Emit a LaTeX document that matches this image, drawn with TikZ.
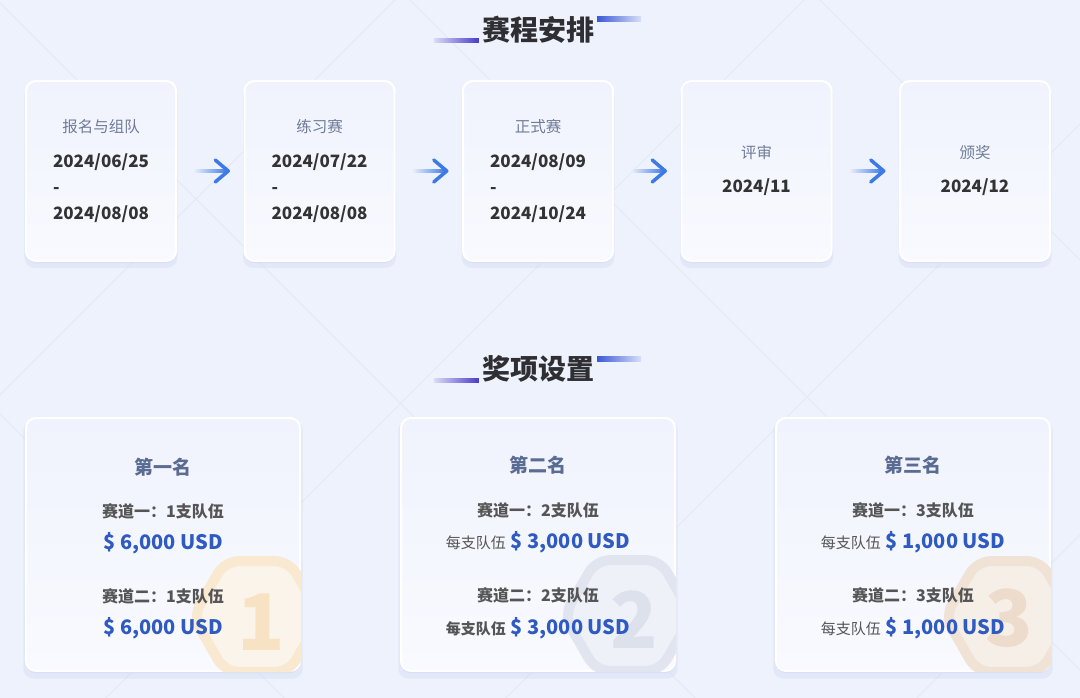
\documentclass[tikz,border=0pt]{standalone}
\usepackage{fontspec}
\setmainfont{Noto Sans CJK SC}
\usepackage{xcolor}
\usetikzlibrary{positioning, calc, shapes.geometric, shadows}

\definecolor{bgc}{HTML}{EEF2FC}
\definecolor{gridc}{HTML}{E5E9F6}
\definecolor{cardtop}{HTML}{F0F3FD}
\definecolor{cardbot}{HTML}{F9FAFF}
\definecolor{shadowc}{HTML}{CDD7F1}
\definecolor{headc}{HTML}{2E2E33}
\definecolor{stagec}{HTML}{6F7B99}
\definecolor{datec}{HTML}{333333}
\definecolor{rankc}{HTML}{5B6C94}
\definecolor{trackc}{HTML}{555555}
\definecolor{moneyc}{HTML}{2E5AC2}
\definecolor{arrowc}{HTML}{3D7AE6}
\definecolor{barl}{HTML}{4A3CC8}
\definecolor{barr}{HTML}{3B5AD6}
\definecolor{goldline}{HTML}{F8E9D0}
\definecolor{goldfill}{HTML}{FBF4EA}
\definecolor{goldnum}{HTML}{F7E2C4}
\definecolor{silvline}{HTML}{E1E5EF}
\definecolor{silvfill}{HTML}{EEF1F7}
\definecolor{silvnum}{HTML}{DDE1EB}
\definecolor{bronline}{HTML}{F0E3D5}
\definecolor{bronfill}{HTML}{F6EFE8}
\definecolor{bronnum}{HTML}{EDDCCB}

\newcommand{\fsz}[1]{\fontsize{#1}{#1}\selectfont}
\newcommand{\perteam}{{\color{trackc}\mdseries\fsz{15}每支队伍}\hspace{5pt}}
\newcommand{\perteamb}{{\color{trackc}\fsz{15}每支队伍}\hspace{5pt}}

\begin{document}
\begin{tikzpicture}[x=1pt, y=-1pt, >=stealth,
    gridline/.style={gridc, line width=1pt},
    heading/.style={font=\bfseries\fsz{28}, text=headc, inner sep=0pt},
    barleft/.style={left color=barl!12!bgc, right color=barl},
    barright/.style={left color=barr, right color=barr!12!bgc},
    cardbase/.style={rounded corners=10pt, draw=white, line width=2pt,
        top color=cardtop, bottom color=cardbot, inner sep=0pt,
        drop shadow={shadow xshift=0pt, shadow yshift=-5pt, shadow scale=1.02, fill=shadowc, opacity=0.35},
        drop shadow={shadow xshift=0pt, shadow yshift=-2pt, fill=shadowc, opacity=0.6}},
    stagecard/.style={cardbase, minimum width=150pt, minimum height=180pt},
    prizecard/.style={cardbase, minimum width=274pt, minimum height=253pt},
    stagetitle/.style={font=\fsz{15.5}, text=stagec},
    datetext/.style={font=\bfseries\fsz{17}, text=datec, align=left, inner sep=0pt,
        execute at begin node=\setlength{\baselineskip}{26pt}},
    flowshaft/.style={left color=bgc, right color=arrowc},
    flowhead/.style={arrowc, line width=3.5pt, line cap=round, line join=round},
    hexbadge/.style={regular polygon, regular polygon sides=6, minimum size=128pt,
        inner sep=0pt, line width=10pt, rounded corners=14pt},
    badgenum/.style={font=\bfseries\fsz{78}, inner sep=0pt},
    rank/.style={font=\bfseries\fsz{19}, text=rankc},
    track/.style={font=\bfseries\fsz{16}, text=trackc},
    money/.style={font=\bfseries\fsz{20}, text=moneyc}]

  \useasboundingbox[fill=bgc] (0,0) rectangle (1080,698);

  % faint lattice in the background
  \begin{scope}
    \clip (0,0) rectangle (1080,698);
    \foreach \c in {-820,-410,3,414}
      \draw[gridline] (0,\c) -- (1080,\c+1080);
    \foreach \c in {395,804,1204,1615}
      \draw[gridline] (0,\c) -- (1080,\c-1080);
  \end{scope}

  % schedule
  \node[heading] (h1) at (538,30) {赛程安排};
  \shade[barleft] ($(h1.west)+(-48,9)$) rectangle ($(h1.west)+(-3,13)$);
  \shade[barright] ($(h1.east)+(3,-13)$) rectangle ($(h1.east)+(47,-8)$);

  \node[stagecard] (s1) at (101,171) {};
  \node[stagecard, right=66.5pt of s1] (s2) {};
  \node[stagecard, right=66.5pt of s2] (s3) {};
  \node[stagecard, right=66.5pt of s3] (s4) {};
  \node[stagecard, right=66.5pt of s4] (s5) {};

  \node[stagetitle] (t1) at ($(s1.center)+(0,-44)$) {报名与组队};
  \node[datetext] (d1) at ($(s1.center)+(0,17)$) {2024/06/25\\-\\2024/08/08};
  \node[stagetitle] (t2) at ($(s2.center)+(0,-44)$) {练习赛};
  \node[datetext] (d2) at ($(s2.center)+(0,17)$) {2024/07/22\\-\\2024/08/08};
  \node[stagetitle] (t3) at ($(s3.center)+(0,-44)$) {正式赛};
  \node[datetext] (d3) at ($(s3.center)+(0,17)$) {2024/08/09\\-\\2024/10/24};
  \node[stagetitle] (t4) at ($(s4.center)+(0,-18)$) {评审};
  \node[datetext] (d4) at ($(s4.center)+(0,16)$) {2024/11};
  \node[stagetitle] (t5) at ($(s5.center)+(0,-18)$) {颁奖};
  \node[datetext] (d5) at ($(s5.center)+(0,16)$) {2024/12};

  \foreach \a/\b [count=\i] in {s1/s2, s2/s3, s3/s4, s4/s5} {
    \coordinate (g\i) at ($(\a.east)!0.5!(\b.west)$);
    \shade[flowshaft, rounded corners=1.5pt] ($(g\i)+(-17,-1.8)$) rectangle ($(g\i)+(17,1.8)$);
    \draw[flowhead] ($(g\i)+(5,-11)$) -- ($(g\i)+(18,0)$) -- ($(g\i)+(5,11)$);
  }

  % prizes
  \node[heading] (h2) at (538,369) {奖项设置};
  \shade[barleft] ($(h2.west)+(-48,9)$) rectangle ($(h2.west)+(-3,13)$);
  \shade[barright] ($(h2.east)+(3,-13)$) rectangle ($(h2.east)+(47,-8)$);

  \node[prizecard] (p1) at (163,544.5) {};
  \node[prizecard, right=99pt of p1] (p2) {};
  \node[prizecard, right=99pt of p2] (p3) {};

  \begin{scope}
    \clip[rounded corners=10pt] (p1.south west) rectangle (p1.north east);
    \node[hexbadge, draw=goldline, fill=goldfill] (x1) at ($(p1.center)+(94,72)$) {};
    \node[badgenum, text=goldnum] (n1) at ($(x1.center)+(4,6)$) {1};
  \end{scope}
  \begin{scope}
    \clip[rounded corners=10pt] (p2.south west) rectangle (p2.north east);
    \node[hexbadge, draw=silvline, fill=silvfill] (x2) at ($(p2.center)+(90,71)$) {};
    \node[badgenum, text=silvnum] (n2) at ($(x2.center)+(6,4)$) {2};
  \end{scope}
  \begin{scope}
    \clip[rounded corners=10pt] (p3.south west) rectangle (p3.north east);
    \node[hexbadge, draw=bronline, fill=bronfill] (x3) at ($(p3.center)+(96,72)$) {};
    \node[badgenum, text=bronnum] (n3) at ($(x3.center)+(0,2)$) {3};
  \end{scope}

  \node[rank] (r1) at ($(p1.center)+(0,-77.5)$) {第一名};
  \node[track] (a1) at ($(p1.center)+(0,-33.5)$) {赛道一：1支队伍};
  \node[money] (m1) at ($(p1.center)+(0,-1.5)$) {\$ 6,000 USD};
  \node[track] (b1) at ($(p1.center)+(0,51.5)$) {赛道二：1支队伍};
  \node[money] (k1) at ($(p1.center)+(0,83.5)$) {\$ 6,000 USD};

  \node[rank] (r2) at ($(p2.center)+(0,-79)$) {第二名};
  \node[track] (a2) at ($(p2.center)+(0,-34.5)$) {赛道一：2支队伍};
  \node[money] (m2) at ($(p2.center)+(0,-2.5)$) {\perteam\$ 3,000 USD};
  \node[track] (b2) at ($(p2.center)+(0,50.5)$) {赛道二：2支队伍};
  \node[money] (k2) at ($(p2.center)+(0,83.5)$) {\perteamb\$ 3,000 USD};

  \node[rank] (r3) at ($(p3.center)+(0,-79)$) {第三名};
  \node[track] (a3) at ($(p3.center)+(0,-34.5)$) {赛道一：3支队伍};
  \node[money] (m3) at ($(p3.center)+(0,-2.5)$) {\perteam\$ 1,000 USD};
  \node[track] (b3) at ($(p3.center)+(0,50.5)$) {赛道二：3支队伍};
  \node[money] (k3) at ($(p3.center)+(0,83.5)$) {\perteam\$ 1,000 USD};
\end{tikzpicture}
\end{document}
